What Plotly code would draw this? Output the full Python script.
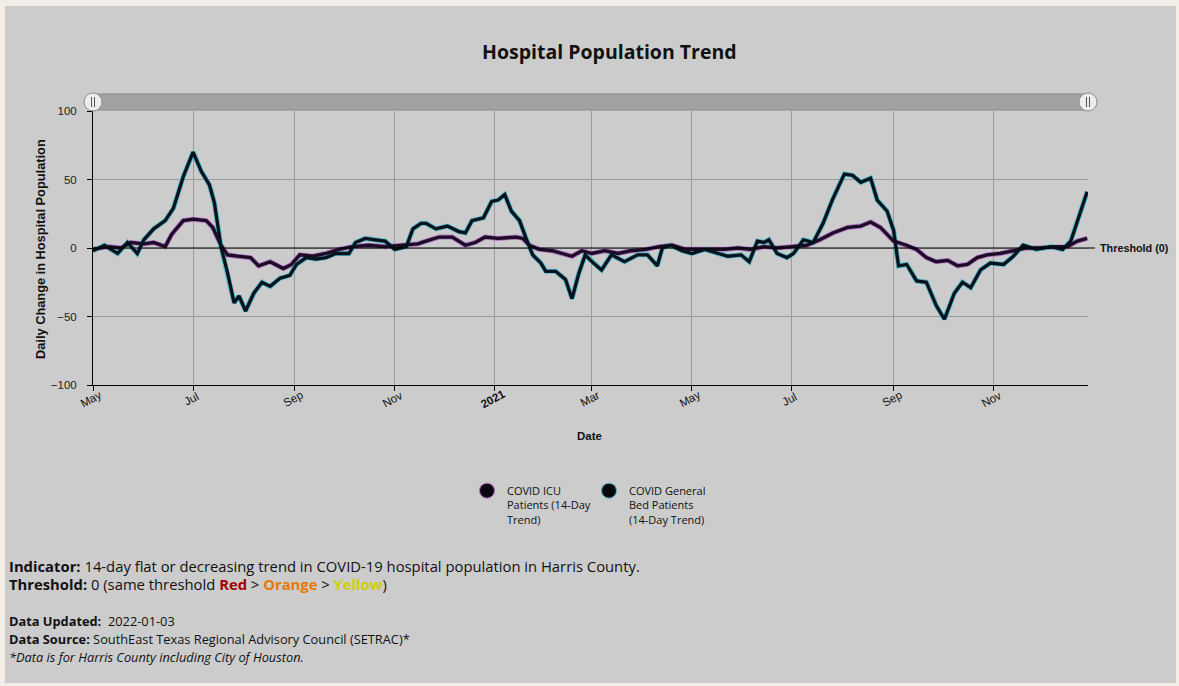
import plotly.graph_objects as go

# ---------------- data ----------------
gen_dates = [
    "2020-05-01", "2020-05-08", "2020-05-16", "2020-05-22", "2020-05-28", "2020-06-01", "2020-06-07",
    "2020-06-14", "2020-06-19", "2020-06-25", "2020-07-01", "2020-07-06", "2020-07-11", "2020-07-14",
    "2020-07-18", "2020-07-22", "2020-07-26", "2020-07-29", "2020-08-02", "2020-08-07", "2020-08-12",
    "2020-08-17", "2020-08-23", "2020-08-29", "2020-09-02", "2020-09-08", "2020-09-14", "2020-09-20",
    "2020-09-26", "2020-10-04", "2020-10-08", "2020-10-14", "2020-10-20", "2020-10-26", "2020-11-01",
    "2020-11-08", "2020-11-12", "2020-11-17", "2020-11-20", "2020-11-26", "2020-12-03", "2020-12-10",
    "2020-12-14", "2020-12-18", "2020-12-25", "2020-12-30", "2021-01-03", "2021-01-07", "2021-01-11",
    "2021-01-16", "2021-01-20", "2021-01-24", "2021-01-29", "2021-02-01", "2021-02-07", "2021-02-13",
    "2021-02-17", "2021-02-21", "2021-02-25", "2021-03-02", "2021-03-07", "2021-03-13", "2021-03-21",
    "2021-03-29", "2021-04-04", "2021-04-10", "2021-04-13", "2021-04-18", "2021-04-25", "2021-05-01",
    "2021-05-09", "2021-05-17", "2021-05-23", "2021-05-31", "2021-06-05", "2021-06-10", "2021-06-14",
    "2021-06-17", "2021-06-22", "2021-06-28", "2021-07-02", "2021-07-08", "2021-07-14", "2021-07-20",
    "2021-07-26", "2021-08-02", "2021-08-07", "2021-08-12", "2021-08-18", "2021-08-22", "2021-08-28",
    "2021-09-01", "2021-09-04", "2021-09-09", "2021-09-15", "2021-09-21", "2021-09-27", "2021-10-02",
    "2021-10-08", "2021-10-13", "2021-10-18", "2021-10-24", "2021-10-30", "2021-11-07", "2021-11-13",
    "2021-11-19", "2021-11-27", "2021-12-06", "2021-12-13", "2021-12-18", "2021-12-23", "2021-12-28",
]
gen_values = [
    -2, 2, -4, 4, -4, 6, 14,
    20, 29, 52, 70, 56, 46, 33,
    1, -18, -40, -35, -46, -33, -25,
    -28, -22, -20, -12, -7, -8, -7,
    -4, -4, 4, 7, 6, 5, -1,
    1, 14, 18, 18, 14, 16, 12,
    11, 20, 22, 34, 35, 39, 27,
    20, 7, -5, -11, -17, -17, -23,
    -37, -19, -5, -11, -16, -5, -10,
    -5, -5, -13, 0, 2, -2, -4,
    -1, -4, -6, -5, -10, 5, 4,
    6, -4, -7, -4, 6, 4, 18,
    36, 54, 53, 48, 51, 35, 27,
    13, -13, -12, -24, -25, -42, -52,
    -33, -25, -29, -16, -11, -12, -6,
    2, -1, 1, -1, 5, 23, 41,
]

icu_dates = [
    "2020-05-01", "2020-05-10", "2020-05-18", "2020-05-24", "2020-06-01", "2020-06-07", "2020-06-14",
    "2020-06-18", "2020-06-25", "2020-07-01", "2020-07-09", "2020-07-13", "2020-07-18", "2020-07-22",
    "2020-07-28", "2020-08-05", "2020-08-10", "2020-08-17", "2020-08-25", "2020-08-30", "2020-09-04",
    "2020-09-12", "2020-09-20", "2020-09-28", "2020-10-06", "2020-10-16", "2020-10-26", "2020-11-05",
    "2020-11-15", "2020-11-20", "2020-11-28", "2020-12-06", "2020-12-14", "2020-12-20", "2020-12-26",
    "2021-01-03", "2021-01-14", "2021-01-18", "2021-01-22", "2021-01-28", "2021-02-05", "2021-02-11",
    "2021-02-17", "2021-02-23", "2021-03-01", "2021-03-09", "2021-03-17", "2021-03-25", "2021-04-03",
    "2021-04-11", "2021-04-19", "2021-04-27", "2021-05-05", "2021-05-13", "2021-05-21", "2021-05-29",
    "2021-06-06", "2021-06-14", "2021-06-22", "2021-07-01", "2021-07-10", "2021-07-18", "2021-07-26",
    "2021-08-04", "2021-08-12", "2021-08-18", "2021-08-24", "2021-09-01", "2021-09-09", "2021-09-15",
    "2021-09-21", "2021-09-27", "2021-10-04", "2021-10-10", "2021-10-16", "2021-10-22", "2021-10-28",
    "2021-11-05", "2021-11-13", "2021-11-21", "2021-11-29", "2021-12-08", "2021-12-16", "2021-12-22",
    "2021-12-28",
]
icu_values = [
    -1, 1, 0, 4, 3, 4, 1,
    10, 20, 21, 20, 15, 2, -5,
    -6, -7, -13, -10, -15, -12, -5,
    -6, -4, -1, 1, 2, 1, 2,
    3, 5, 8, 8, 2, 4, 8,
    7, 8, 7, 2, -1, -2, -4,
    -6, -2, -4, -2, -4, -2, -1,
    1, 2, -1, -1, -1, -1, 0,
    -1, 1, 0, 1, 2, 6, 11,
    15, 16, 19, 15, 5, 2, -1,
    -7, -10, -9, -13, -12, -7, -5,
    -4, -2, 0, 0, 1, 1, 5,
    7,
]

tick_dates = ["2020-05-01", "2020-07-01", "2020-09-01", "2020-11-01", "2021-01-01",
              "2021-03-01", "2021-05-01", "2021-07-01", "2021-09-01", "2021-11-01"]
tick_labels = ["May", "Jul", "Sep", "Nov", "<b>2021</b>", "Mar", "May", "Jul", "Sep", "Nov"]
y_ticks = [-100, -50, 0, 50, 100]
threshold = 0
x_range = ["2020-05-01", "2021-12-28 12:00"]

# ---------------- layout geometry ----------------
W, H = 1179, 686
L, R, T, B = 93, 91, 111, 301
PW, PH = W - L - R, H - T - B


def px(x):
    return (x - L) / PW


def py(y):
    return (H - B - y) / PH


PANEL = "#cccccc"
BEIGE = "#f2eee7"
INK = "#111111"
SANS = "Open Sans"

fig = go.Figure()

# glow + main lines
fig.add_trace(go.Scatter(x=icu_dates, y=icu_values, mode="lines", showlegend=False, hoverinfo="skip",
                         line=dict(color="#b56fc9", width=5)))
fig.add_trace(go.Scatter(x=gen_dates, y=gen_values, mode="lines", showlegend=False, hoverinfo="skip",
                         line=dict(color="#4fb8c9", width=5)))
fig.add_trace(go.Scatter(x=icu_dates, y=icu_values, mode="lines", showlegend=False,
                         name="COVID ICU Patients (14-Day Trend)",
                         line=dict(color="#1a0d24", width=3.3)))
fig.add_trace(go.Scatter(x=gen_dates, y=gen_values, mode="lines", showlegend=False,
                         name="COVID General Bed Patients (14-Day Trend)",
                         line=dict(color="#08121c", width=3.3)))

# legend entries
fig.add_trace(go.Scatter(x=[None], y=[None], mode="markers",
                         name="COVID ICU<br>Patients (14-Day<br>Trend)",
                         marker=dict(size=15, color="#0a0510", line=dict(color="#b56fc9", width=1))))
fig.add_trace(go.Scatter(x=[None], y=[None], mode="markers",
                         name="COVID General<br>Bed Patients<br>(14-Day Trend)",
                         marker=dict(size=15, color="#05080c", line=dict(color="#4fb8c9", width=1))))

shapes = []
# grey panel
shapes.append(dict(type="rect", xref="paper", yref="paper", layer="below",
                   x0=px(5), x1=px(1176), y0=py(683), y1=py(6),
                   fillcolor=PANEL, line=dict(width=0)))
# threshold line
shapes.append(dict(type="line", xref="paper", yref="y", x0=0, x1=px(1095), y0=threshold, y1=threshold,
                   line=dict(color="#000000", width=1.2), layer="above"))
# range-slider look-alike at top
shapes.append(dict(type="rect", xref="paper", yref="paper", x0=0, x1=1, y0=py(110), y1=py(94),
                   fillcolor="#a2a2a2", line=dict(color="#8a8a8a", width=1)))
for hx in (93, 1088):
    shapes.append(dict(type="circle", xref="paper", yref="paper",
                       x0=px(hx - 9), x1=px(hx + 9), y0=py(111), y1=py(93),
                       fillcolor="#ededed", line=dict(color="#8f8f8f", width=1)))
    for dx in (-1.5, 1.5):
        shapes.append(dict(type="line", xref="paper", yref="paper",
                           x0=px(hx + dx), x1=px(hx + dx), y0=py(107), y1=py(97),
                           line=dict(color="#555555", width=1)))

annotations = []
annotations.append(dict(text="<b>Hospital Population Trend</b>", xref="paper", yref="paper",
                        x=px(609), y=py(51), showarrow=False, xanchor="center", yanchor="middle",
                        font=dict(family=SANS, size=19.5, color=INK)))
annotations.append(dict(text="<b>Daily Change in Hospital Population</b>", xref="paper", yref="paper",
                        x=px(41), y=py(249), showarrow=False, textangle=-90,
                        xanchor="center", yanchor="middle",
                        font=dict(family="Liberation Sans", size=12.8, color=INK)))
annotations.append(dict(text="<b>Date</b>", xref="paper", yref="paper",
                        x=px(589), y=py(436), showarrow=False, xanchor="center", yanchor="middle",
                        font=dict(family="Liberation Sans", size=11.5, color=INK)))
annotations.append(dict(text="<b>Threshold (0)</b>", xref="paper", yref="y",
                        x=px(1098), y=threshold, showarrow=False, xanchor="left", yanchor="middle",
                        font=dict(family="Liberation Sans", size=10.8, color=INK)))
# x tick labels (rotated, centred on ticks)
for d, lab in zip(tick_dates, tick_labels):
    annotations.append(dict(text=lab, xref="x", yref="paper", x=d, y=py(399), showarrow=False,
                            textangle=-28, xanchor="center", yanchor="middle", xshift=-2,
                            font=dict(family="Liberation Sans", size=11.5, color=INK)))

# bottom notes
annotations.append(dict(
    text="<b>Indicator:</b> 14-day flat or decreasing trend in COVID-19 hospital population in Harris County.",
    xref="paper", yref="paper", x=px(7), y=py(566), showarrow=False, xanchor="left", yanchor="middle",
    font=dict(family=SANS, size=14.8, color=INK)))
annotations.append(dict(
    text=("<b>Threshold:</b> 0 (same threshold <b><span style='color:#a30000'>Red</span></b> &gt; "
          "<b><span style='color:#e57a00'>Orange</span></b> &gt; "
          "<b><span style='color:#cfcf00'>Yellow</span></b>)"),
    xref="paper", yref="paper", x=px(7), y=py(584), showarrow=False, xanchor="left", yanchor="middle",
    font=dict(family=SANS, size=14.8, color=INK)))
annotations.append(dict(
    text="<b>Data Updated:</b>  2022-01-03",
    xref="paper", yref="paper", x=px(7), y=py(621), showarrow=False, xanchor="left", yanchor="middle",
    font=dict(family=SANS, size=12.8, color=INK)))
annotations.append(dict(
    text="<b>Data Source:</b> SouthEast Texas Regional Advisory Council (SETRAC)*",
    xref="paper", yref="paper", x=px(7), y=py(639), showarrow=False, xanchor="left", yanchor="middle",
    font=dict(family=SANS, size=12.8, color=INK)))
annotations.append(dict(
    text="<i>*Data is for Harris County including City of Houston.</i>",
    xref="paper", yref="paper", x=px(7), y=py(657), showarrow=False, xanchor="left", yanchor="middle",
    font=dict(family=SANS, size=12.8, color=INK)))

fig.update_layout(
    width=W, height=H,
    margin=dict(l=L, r=R, t=T, b=B, pad=0),
    paper_bgcolor=BEIGE,
    plot_bgcolor="rgba(0,0,0,0)",
    shapes=shapes,
    annotations=annotations,
    showlegend=True,
    legend=dict(orientation="h", x=px(467), xanchor="left", y=py(477), yanchor="top",
                valign="top", bgcolor="rgba(0,0,0,0)", borderwidth=0,
                entrywidth=77, entrywidthmode="pixels", itemwidth=30,
                font=dict(family=SANS, size=11, color=INK)),
    font=dict(family="Liberation Sans", color=INK),
)

fig.update_xaxes(type="date", range=x_range, tickmode="array", tickvals=tick_dates,
                 showticklabels=False, ticks="outside", ticklen=5, tickcolor="#000000",
                 showgrid=True, gridcolor="#9a9a9a", gridwidth=1,
                 showline=True, linecolor="#000000", linewidth=1, zeroline=False, fixedrange=True)
fig.update_yaxes(range=[-100, 100], tickmode="array", tickvals=y_ticks,
                 ticks="outside", ticklen=5, tickcolor="#000000", ticklabelstandoff=8,
                 tickfont=dict(family="Liberation Sans", size=11.5, color="#222222"),
                 showgrid=True, gridcolor="#9a9a9a", gridwidth=1,
                 showline=True, linecolor="#000000", linewidth=1, zeroline=False, fixedrange=True)

fig.write_html("out.html", config={"displayModeBar": False},
               post_script="document.body.style.margin='0';document.body.style.overflow='hidden';")
